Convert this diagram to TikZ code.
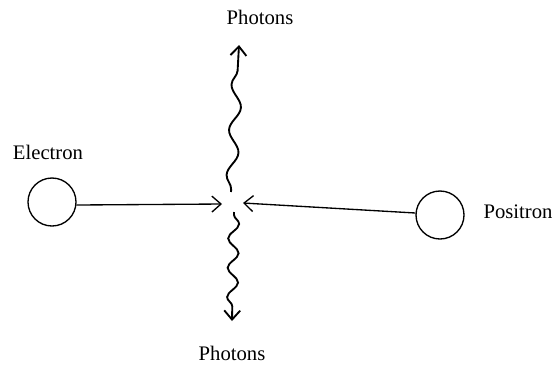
\documentclass[tikz,border=0pt]{standalone}
\usepackage{fontspec}
\setmainfont{Liberation Serif}
\usetikzlibrary{arrows.meta,decorations.pathmorphing}

\begin{document}
\begin{tikzpicture}[
  x=0.75pt, y=-0.75pt,
  font=\fontsize{15.5}{18}\selectfont,
  part/.style={draw, line width=1pt, circle, minimum size=36pt, inner sep=0pt},
  lbl/.style={inner sep=1pt},
  fl/.style={-{Straight Barb[length=2.4mm, width=4.2mm]}, line width=1pt},
  wig/.style={-{Straight Barb[length=2.4mm, width=4.2mm]}, line width=1.4pt,
              decorate, decoration={snake, amplitude=4pt, segment length=#1,
              pre length=2pt, post length=5pt}}
]
\useasboundingbox (0,0) rectangle (556,365);

% ---------- particles ----------
\node[part] (el)  at (52,202)  {};
\node[part] (pos) at (440,215) {};
\node[lbl] (ell) at (48,152)  {Electron};
\node[lbl] (pol) at (518,212) {Positron};

% ---------- collision point ----------
\coordinate (hitl) at (222,204);
\coordinate (hitr) at (243,203);
\draw[fl] (el.-7) -- (hitl);
\draw[fl] (pos.west) ++(0,-2) -- (hitr);

% ---------- photons ----------
\node[lbl] (pht) at (260,17)  {Photons};
\node[lbl] (phb) at (232,353) {Photons};
\coordinate (wt0) at (231,192);
\coordinate (wt1) at (239,45);
\coordinate (wb0) at (234,212);
\coordinate (wb1) at (232,321);
\draw[wig=34pt] (wt0) -- (wt1);
\draw[wig=22pt] (wb0) -- (wb1);

\end{tikzpicture}
\end{document}
